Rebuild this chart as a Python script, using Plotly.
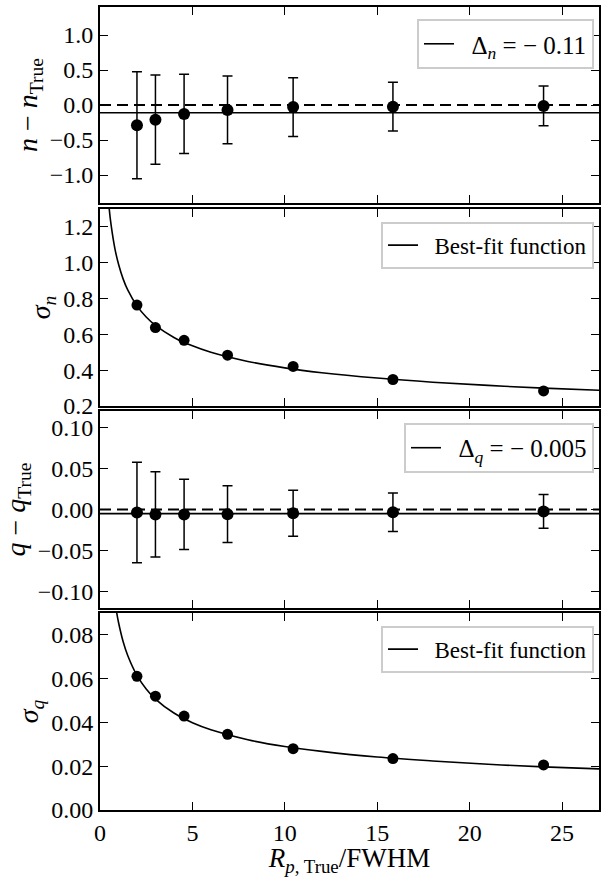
import plotly.graph_objects as go
from plotly.subplots import make_subplots

# ---------------- data ----------------
x_ratio = [2.0, 3.0, 4.55, 6.9, 10.45, 15.85, 24.0]
dn = [-0.29, -0.21, -0.127, -0.07, -0.03, -0.024, -0.014]
sigma_n = [0.764, 0.638, 0.567, 0.484, 0.421, 0.348, 0.284]
dq = [-0.0037, -0.006, -0.006, -0.0057, -0.0045, -0.0033, -0.0024]
sigma_q = [0.0611, 0.052, 0.0429, 0.0346, 0.028, 0.0235, 0.0206]
delta_n = -0.11
delta_q = -0.005

fit_n_x = [0.45, 0.5, 0.6, 0.8, 1.0, 1.25, 1.5, 2.0, 2.5, 3.0, 4.0, 5.0, 6.0, 8.0,
           10.0, 12.0, 15.0, 18.0, 21.0, 24.0, 27.0]
fit_n_y = [1.37, 1.30, 1.211, 1.082, 0.993, 0.910, 0.848, 0.759, 0.697, 0.650, 0.583,
           0.536, 0.500, 0.449, 0.413, 0.386, 0.356, 0.333, 0.315, 0.300, 0.288]
fit_q_x = [0.7, 0.8, 0.9, 1.0, 1.25, 1.5, 2.0, 2.5, 3.0, 4.0, 5.0, 6.0, 8.0, 10.0,
           12.0, 15.0, 18.0, 21.0, 24.0, 27.0]
fit_q_y = [0.1020, 0.0956, 0.0903, 0.0858, 0.0770, 0.0706, 0.0615, 0.0553, 0.0507,
           0.0443, 0.0399, 0.0367, 0.0321, 0.0290, 0.0268, 0.0242, 0.0224, 0.0209,
           0.0197, 0.0188]

x_range = [0, 27]
x_ticks = [0, 5, 10, 15, 20, 25]
y1_range = [-1.4, 1.4]
y1_ticks = [-1.0, -0.5, 0.0, 0.5, 1.0]
y2_range = [0.2, 1.3]
y2_ticks = [0.2, 0.4, 0.6, 0.8, 1.0, 1.2]
y3_range = [-0.12, 0.12]
y3_ticks = [-0.10, -0.05, 0.0, 0.05, 0.10]
y4_range = [0.0, 0.09]
y4_ticks = [0.0, 0.02, 0.04, 0.06, 0.08]

FONT = "Liberation Serif"
BLACK = "black"
ES = "\u2002"  # en space

fig = make_subplots(rows=4, cols=1, shared_xaxes=True, vertical_spacing=0.006)

# ---- panel 1 ----
fig.add_trace(go.Scatter(x=x_range, y=[delta_n, delta_n], mode="lines",
                         line=dict(color=BLACK, width=1.6),
                         name=f"{ES}Δ<sub><i>n</i></sub> = − 0.11", legend="legend"),
              row=1, col=1)
fig.add_trace(go.Scatter(x=x_ratio, y=dn, mode="markers",
                         marker=dict(color=BLACK, size=12),
                         error_y=dict(type="data", array=sigma_n, visible=True,
                                      color=BLACK, thickness=1.5, width=5),
                         showlegend=False), row=1, col=1)
fig.add_hline(y=0, line=dict(color=BLACK, width=2, dash="11px,6px"), row=1, col=1)

# ---- panel 2 ----
fig.add_trace(go.Scatter(x=fit_n_x, y=fit_n_y, mode="lines", line_shape="spline",
                         line=dict(color=BLACK, width=1.6),
                         name=f"{ES}Best-fit function", legend="legend2"), row=2, col=1)
fig.add_trace(go.Scatter(x=x_ratio, y=sigma_n, mode="markers",
                         marker=dict(color=BLACK, size=11), showlegend=False), row=2, col=1)

# ---- panel 3 ----
fig.add_trace(go.Scatter(x=x_range, y=[delta_q, delta_q], mode="lines",
                         line=dict(color=BLACK, width=1.6),
                         name=f"{ES}Δ<sub><i>q</i></sub> = − 0.005", legend="legend3"),
              row=3, col=1)
fig.add_trace(go.Scatter(x=x_ratio, y=dq, mode="markers",
                         marker=dict(color=BLACK, size=12),
                         error_y=dict(type="data", array=sigma_q, visible=True,
                                      color=BLACK, thickness=1.5, width=5),
                         showlegend=False), row=3, col=1)
fig.add_hline(y=0, line=dict(color=BLACK, width=2, dash="11px,6px"), row=3, col=1)

# ---- panel 4 ----
fig.add_trace(go.Scatter(x=fit_q_x, y=fit_q_y, mode="lines", line_shape="spline",
                         line=dict(color=BLACK, width=1.6),
                         name=f"{ES}Best-fit function", legend="legend4"), row=4, col=1)
fig.add_trace(go.Scatter(x=x_ratio, y=sigma_q, mode="markers",
                         marker=dict(color=BLACK, size=11), showlegend=False), row=4, col=1)

axis_common = dict(showline=True, linecolor=BLACK, linewidth=2, mirror="allticks",
                   ticks="inside", ticklen=8, tickwidth=1.2, tickcolor=BLACK,
                   showgrid=False, zeroline=False,
                   tickfont=dict(family=FONT, size=24, color=BLACK))

domains = [[0.7559, 1.0], [0.5031, 0.7484], [0.2516, 0.4969], [0.0, 0.2453]]
yranges = [y1_range, y2_range, y3_range, y4_range]
yticks = [y1_ticks, y2_ticks, y3_ticks, y4_ticks]
yfmts = [".1f", ".1f", ".2f", ".2f"]
ytitles = ["<i>n</i> − <i>n</i><sub>True</sub>", "<i>σ<sub>n</sub></i>",
           "<i>q</i> − <i>q</i><sub>True</sub>", "<i>σ<sub>q</sub></i>"]

for i in range(4):
    sx = "xaxis" if i == 0 else f"xaxis{i+1}"
    sy = "yaxis" if i == 0 else f"yaxis{i+1}"
    fig.layout[sx].update(range=x_range, tickvals=x_ticks, showticklabels=(i == 3),
                          **axis_common)
    fig.layout[sy].update(domain=domains[i], range=yranges[i], tickvals=yticks[i],
                          tickformat=yfmts[i],
                          title=dict(text=ytitles[i], standoff=4,
                                     font=dict(family=FONT, size=28, color=BLACK)),
                          **axis_common)

fig.layout.xaxis4.title = dict(text="<i>R</i><sub><i>p</i>, True</sub>/FWHM", standoff=6,
                               font=dict(family=FONT, size=27, color=BLACK))

leg_common = dict(xanchor="right", yanchor="top", x=0.99, bgcolor="white",
                  bordercolor="#cccccc", borderwidth=2)
math_font = dict(family=FONT, size=25, color=BLACK)
text_font = dict(family=FONT, size=23, color=BLACK)

fig.update_layout(
    width=602, height=877,
    margin=dict(l=100, r=1, t=7, b=67),
    paper_bgcolor="white", plot_bgcolor="white",
    font=dict(family=FONT, color=BLACK),
    legend=dict(y=0.985, font=math_font, **leg_common),
    legend2=dict(y=0.7326, font=text_font, **leg_common),
    legend3=dict(y=0.482, font=math_font, **leg_common),
    legend4=dict(y=0.2295, font=text_font, **leg_common),
)

fig.write_html("out.html")
